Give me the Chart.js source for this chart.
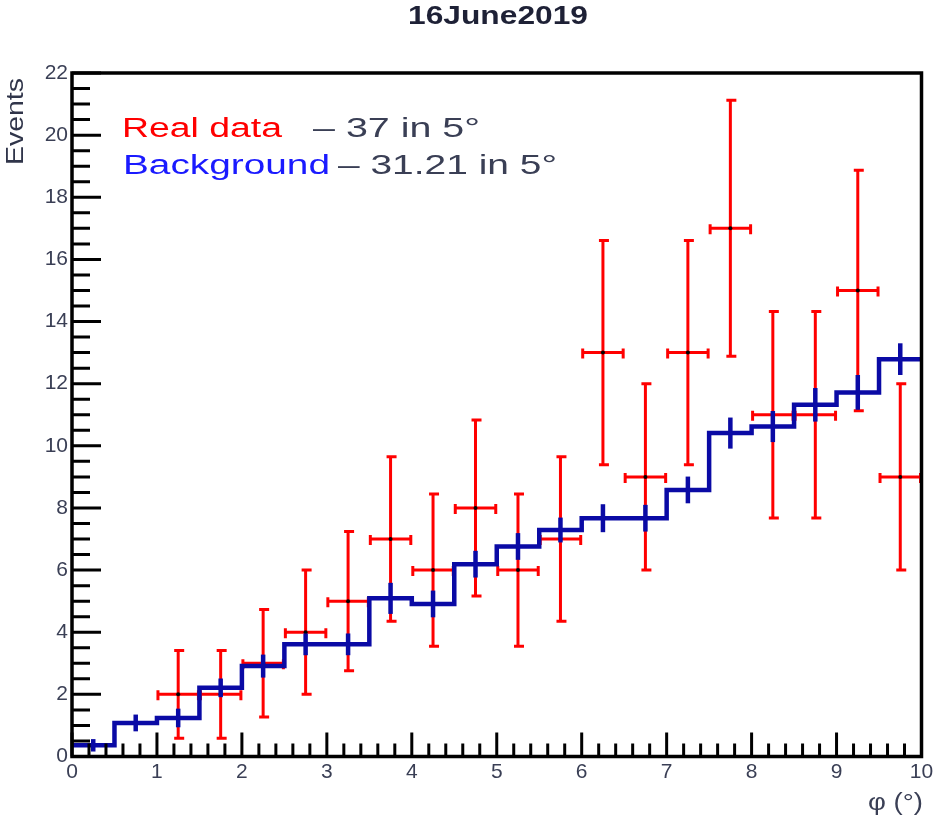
<!DOCTYPE html>
<html>
<head>
<meta charset="utf-8">
<title>16June2019</title>
<script src="https://cdn.jsdelivr.net/npm/chart.js@4/dist/chart.umd.min.js"></script>
<style>
  html, body { margin: 0; padding: 0; background: #ffffff; }
  #wrap { width: 942px; height: 823px; }
</style>
</head>
<body>
<div id="wrap"><canvas id="phiChart" width="942" height="823"></canvas></div>
<script>
// phi distribution, 0.5 degree bins
const binCenters = [0.25, 0.75, 1.25, 1.75, 2.25, 2.75, 3.25, 3.75, 4.25, 4.75,
                    5.25, 5.75, 6.25, 6.75, 7.25, 7.75, 8.25, 8.75, 9.25, 9.75];
const binHalfWidth = 0.25;

// Real data: event counts and their errors (empty bins are not drawn)
const dataCounts = [null, null, 2, 2, 3, 4, 5, 7, 6, 8,
                    6, 7, 13, 9, 13, 17, 11, 11, 15, 9];
const dataErrors = [null, null, 1.41, 1.41, 1.73, 2.00, 2.24, 2.65, 2.45, 2.83,
                    2.45, 2.65, 3.61, 3.00, 3.61, 4.12, 3.32, 3.32, 3.87, 3.00];

// Background estimate and its errors
const bgCounts = [0.36, 1.08, 1.24, 2.21, 2.91, 3.61, 3.61, 5.09, 4.91, 6.19,
                  6.76, 7.29, 7.67, 7.67, 8.58, 10.41, 10.62, 11.32, 11.72, 12.79];
const bgErrors = [0.20, 0.27, 0.30, 0.30, 0.37, 0.35, 0.35, 0.50, 0.43, 0.43,
                  0.43, 0.40, 0.45, 0.43, 0.43, 0.50, 0.50, 0.54, 0.56, 0.51];

// Axis ticks
const xTickValues = [0, 1, 2, 3, 4, 5, 6, 7, 8, 9, 10];
const yTickValues = [0, 2, 4, 6, 8, 10, 12, 14, 16, 18, 20, 22];

// Texts
const titleText = '16June2019';
const yAxisTitle = 'Events';
const xAxisTitle = 'φ (°)';
const legendRows = [
  { name: 'Real data',  summary: '– 37 in 5°' },
  { name: 'Background', summary: '– 31.21 in 5°' }
];

const RED = '#ff0000';
const BLUE = '#0a0aa5';
const TEXT = '#3a3f55';
const FONT = "'Liberation Sans', Arial, sans-serif";

// text squeezed/stretched horizontally into a given width
function fitText(ctx, str, x, y, width, size, color, weight) {
  ctx.save();
  ctx.font = (weight || 'normal') + ' ' + size + 'px ' + FONT;
  ctx.fillStyle = color;
  ctx.textAlign = 'left';
  ctx.textBaseline = 'alphabetic';
  const w = ctx.measureText(str).width;
  ctx.translate(x, y);
  ctx.scale(width / w, 1);
  ctx.fillText(str, 0, 0);
  ctx.restore();
}

const histPoints = [];
binCenters.forEach((c, i) => {
  histPoints.push({ x: c - binHalfWidth, y: bgCounts[i] });
  histPoints.push({ x: c + binHalfWidth, y: bgCounts[i] });
});

const dataPoints = [];
binCenters.forEach((c, i) => {
  if (dataCounts[i] !== null) dataPoints.push({ x: c, y: dataCounts[i] });
});

const errorBarPlugin = {
  id: 'errorBars',
  beforeDatasetDraw(chart, args) {
    if (args.index !== 1) return;
    const { ctx, scales: { x, y }, chartArea } = chart;
    ctx.save();
    ctx.beginPath();
    ctx.rect(chartArea.left, chartArea.top, chartArea.right - chartArea.left, chartArea.bottom - chartArea.top);
    ctx.clip();
    ctx.strokeStyle = RED;
    ctx.lineWidth = 3;
    ctx.lineCap = 'butt';
    binCenters.forEach((c, i) => {
      const v = dataCounts[i];
      if (v === null) return;
      const e = dataErrors[i];
      const px = x.getPixelForValue(c);
      const py = y.getPixelForValue(v);
      const xl = x.getPixelForValue(c - binHalfWidth);
      const xr = x.getPixelForValue(c + binHalfWidth);
      const yt = y.getPixelForValue(v + e);
      const yb = y.getPixelForValue(v - e);
      ctx.beginPath();
      ctx.moveTo(px, yt); ctx.lineTo(px, yb);
      ctx.moveTo(xl, py); ctx.lineTo(xr, py);
      ctx.moveTo(px - 4, yt); ctx.lineTo(px + 6, yt);
      ctx.moveTo(px - 4, yb); ctx.lineTo(px + 6, yb);
      ctx.moveTo(xl + 1, py - 4); ctx.lineTo(xl + 1, py + 6);
      ctx.moveTo(xr - 1, py - 4); ctx.lineTo(xr - 1, py + 6);
      ctx.stroke();
    });
    ctx.restore();
  },
  afterDatasetDraw(chart, args) {
    if (args.index !== 0) return;
    const { ctx, scales: { x, y } } = chart;
    ctx.save();
    ctx.strokeStyle = BLUE;
    ctx.lineWidth = 4.5;
    binCenters.forEach((c, i) => {
      const px = x.getPixelForValue(c);
      ctx.beginPath();
      ctx.moveTo(px, y.getPixelForValue(bgCounts[i] + bgErrors[i]));
      ctx.lineTo(px, y.getPixelForValue(bgCounts[i] - bgErrors[i]));
      ctx.stroke();
    });
    ctx.restore();
  }
};

const framePlugin = {
  id: 'rootFrame',
  afterDatasetsDraw(chart) {
    const { ctx, scales: { x, y }, chartArea: a } = chart;
    ctx.save();
    ctx.strokeStyle = '#000000';
    ctx.lineCap = 'butt';
    // y axis ticks, drawn inward
    ctx.lineWidth = 3;
    ctx.beginPath();
    for (let k = 0; k < yTickValues.length; k++) {
      const v = yTickValues[k];
      const py = y.getPixelForValue(v);
      ctx.moveTo(a.left, py); ctx.lineTo(a.left + 29, py);
      if (k < yTickValues.length - 1) {
        const step = (yTickValues[k + 1] - v) / 4;
        for (let m = 1; m < 4; m++) {
          const pm = y.getPixelForValue(v + m * step);
          ctx.moveTo(a.left, pm); ctx.lineTo(a.left + 18, pm);
        }
      }
    }
    // x axis ticks, drawn inward
    for (let k = 0; k < xTickValues.length; k++) {
      const v = xTickValues[k];
      const px = x.getPixelForValue(v);
      ctx.moveTo(px, a.bottom); ctx.lineTo(px, a.bottom - 24);
      if (k < xTickValues.length - 1) {
        const step = (xTickValues[k + 1] - v) / 5;
        for (let m = 1; m < 5; m++) {
          const pm = x.getPixelForValue(v + m * step);
          ctx.moveTo(pm, a.bottom); ctx.lineTo(pm, a.bottom - 13);
        }
      }
    }
    ctx.stroke();
    // frame
    ctx.lineWidth = 3.5;
    ctx.strokeRect(a.left, a.top, a.right - a.left, a.bottom - a.top);
    ctx.restore();
  },
  afterDraw(chart) {
    const ctx = chart.ctx;
    // title
    fitText(ctx, titleText, 408, 24, 180, 26, '#1e2136', 'bold');
    // legend text
    const baselines = [137, 174];
    const nameX = [122, 123], nameW = [160, 207];
    const sumX = [313, 338], sumW = [167, 219];
    const nameColors = [RED, '#1a1aff'];
    legendRows.forEach((row, i) => {
      fitText(ctx, row.name, nameX[i], baselines[i], nameW[i], 27, nameColors[i]);
      fitText(ctx, row.summary, sumX[i], baselines[i], sumW[i], 27, TEXT);
    });
    // axis titles, aligned to the axis ends
    ctx.save();
    ctx.translate(23, 165);
    ctx.rotate(-Math.PI / 2);
    fitText(ctx, yAxisTitle, 0, 0, 87, 23, '#30354a');
    ctx.restore();
    fitText(ctx, xAxisTitle, 868, 810, 55, 23, TEXT);
  }
};

new Chart(document.getElementById('phiChart'), {
  type: 'scatter',
  data: {
    datasets: [
      {
        label: 'Background',
        type: 'line',
        data: histPoints,
        borderColor: BLUE,
        borderWidth: 4.5,
        borderJoinStyle: 'miter',
        borderCapStyle: 'butt',
        pointRadius: 0,
        fill: false,
        tension: 0,
        order: 0
      },
      {
        label: 'Real data',
        data: dataPoints,
        showLine: false,
        pointRadius: 2,
        pointBackgroundColor: '#000000',
        pointBorderColor: '#000000',
        pointBorderWidth: 0,
        order: 1
      }
    ]
  },
  options: {
    responsive: false,
    animation: false,
    events: [],
    layout: { padding: { top: 73, right: 20.5, left: 0, bottom: 0 } },
    plugins: {
      legend: { display: false },
      title: { display: false },
      tooltip: { enabled: false }
    },
    scales: {
      x: {
        type: 'linear',
        min: 0,
        max: 10,
        afterBuildTicks(scale) { scale.ticks = xTickValues.map(v => ({ value: v })); },
        afterFit(scale) { scale.height = 66.5; },
        grid: { display: false, drawTicks: false },
        border: { display: false },
        ticks: {
          padding: 3,
          color: TEXT,
          maxRotation: 0,
          autoSkip: false,
          font: { family: FONT, size: 21 }
        }
      },
      y: {
        type: 'linear',
        min: 0,
        max: 22,
        afterBuildTicks(scale) { scale.ticks = yTickValues.map(v => ({ value: v })); },
        afterFit(scale) { scale.width = 72; },
        grid: { display: false, drawTicks: false },
        border: { display: false },
        ticks: {
          padding: 4,
          color: TEXT,
          autoSkip: false,
          font: { family: FONT, size: 21 }
        }
      }
    }
  },
  plugins: [errorBarPlugin, framePlugin]
});
</script>
</body>
</html>
